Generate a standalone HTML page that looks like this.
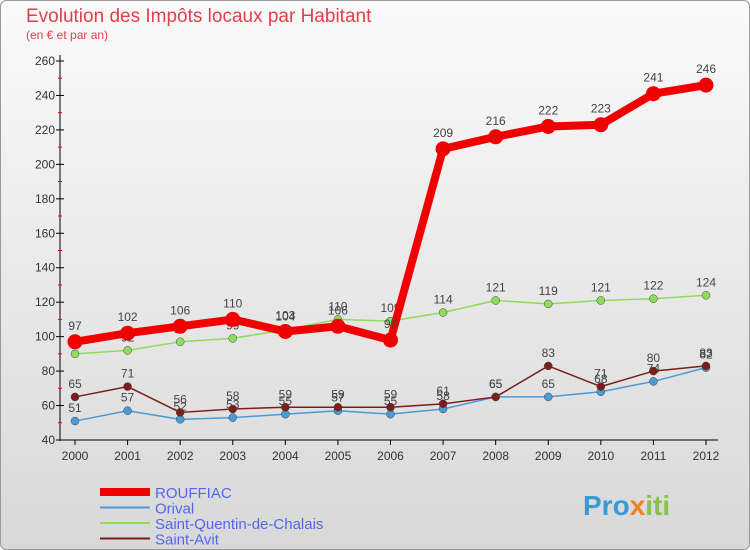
<!DOCTYPE html>
<html><head><meta charset="utf-8"><style>
body{margin:0;width:750px;height:550px;overflow:hidden;font-family:"Liberation Sans",sans-serif}
#bg{position:absolute;left:0;top:0;width:748px;height:548px;border:1px solid #999;border-radius:6px;background:linear-gradient(#fafafa,#d8d8d8)}
</style></head><body>
<div id="bg"></div>
<svg id="c" width="750" height="550" style="position:absolute;left:0;top:0">
<text x="26" y="22" font-size="19" fill="#e0404a">Evolution des Impôts locaux par Habitant</text>
<text x="26" y="39" font-size="12" fill="#e0404a">(en € et par an)</text>
<g id="axes"></g><g id="series"></g><g id="legend"></g>
<text x="583" y="515" font-size="28" font-weight="bold" fill="#3a9ad9">Pro<tspan fill="#f08020">x</tspan><tspan fill="#8bc34a">iti</tspan></text>
</svg>
<script>
const years=[2000,2001,2002,2003,2004,2005,2006,2007,2008,2009,2010,2011,2012];
const yTicks=[40,60,80,100,120,140,160,180,200,220,240,260];
const rouffiac=[97,102,106,110,103,106,98,209,216,222,223,241,246];
const orival=[51,57,52,53,55,57,55,58,65,65,68,74,82];
const stQuentin=[90,92,97,99,104,110,109,114,121,119,121,122,124];
const stAvit=[65,71,56,58,59,59,59,61,65,83,71,80,83];
const NS="http://www.w3.org/2000/svg";
const X=y=>75+(y-2000)*(706-75)/12;
const Y=v=>440-(v-40)*(440-61)/220;
function mk(t,a,p){const e=document.createElementNS(NS,t);for(const k in a)e.setAttribute(k,a[k]);p.appendChild(e);return e;}
const ax=document.getElementById('axes');
let l=mk('line',{x1:60,y1:55,x2:60,y2:441,stroke:'#000'},ax);


l=mk('line',{x1:60,y1:440,x2:718,y2:440,stroke:'#000'},ax);


yTicks.forEach(v=>{
 mk('line',{x1:56,y1:Y(v),x2:64,y2:Y(v),stroke:'#000'},ax);
 if(v<260)mk('line',{x1:58,y1:Y(v+10),x2:62,y2:Y(v+10),stroke:'#e00'},ax);
 const t=mk('text',{x:55,y:Y(v)+4,'font-size':12,'text-anchor':'end',fill:'#333'},ax);t.textContent=v;
 
 
});
years.forEach(y=>{
 mk('line',{x1:X(y),y1:440,x2:X(y),y2:445,stroke:'#000'},ax);
 const t=mk('text',{x:X(y),y:460,'font-size':12,'text-anchor':'middle',fill:'#333'},ax);t.textContent=y;
 
 
});
const sg=document.getElementById('series');
const S=[
 {n:'Orival',d:orival,c:'#4a9ad6',w:1.5,r:4,k:'orival'},
 {n:'Saint-Quentin-de-Chalais',d:stQuentin,c:'#8fdc5a',w:1.5,r:4,k:'saint-quentin'},
 {n:'Saint-Avit',d:stAvit,c:'#7a1d1d',w:1.5,r:4,k:'saint-avit'},
 {n:'ROUFFIAC',d:rouffiac,c:'#f00000',w:8,r:7.5,k:'rouffiac'}];
S.forEach(s=>{
 const g=mk('g',{},sg);
 
 
 const pl=mk('polyline',{points:s.d.map((v,i)=>X(years[i])+','+Y(v)).join(' '),fill:'none',stroke:s.c,'stroke-width':s.w,'stroke-linejoin':'round'},g);
 
 
 s.d.forEach((v,i)=>{
  const c=mk('circle',{cx:X(years[i]),cy:Y(v),r:s.r,fill:s.c,stroke:s.w>2?'none':'#444','stroke-width':0.5},g);
  
  
  const t=mk('text',{x:X(years[i]),y:Y(v)-(s.w>2?12:9),'font-size':12,'text-anchor':'middle',fill:'#444'},g);t.textContent=v;
  
  
 });
});
const lg=document.getElementById('legend');
const L=[S[3],S[0],S[1],S[2]];
L.forEach((s,i)=>{
 const y=492+i*15.5;
 const g=mk('g',{},lg);
 
 
 mk('line',{x1:100,y1:y,x2:150,y2:y,stroke:s.c,'stroke-width':s.w>2?8:2},g);
 const t=mk('text',{x:155,y:y+6,'font-size':15,fill:'#5566ee'},g);t.textContent=s.n;
});
</script>
</body></html>
